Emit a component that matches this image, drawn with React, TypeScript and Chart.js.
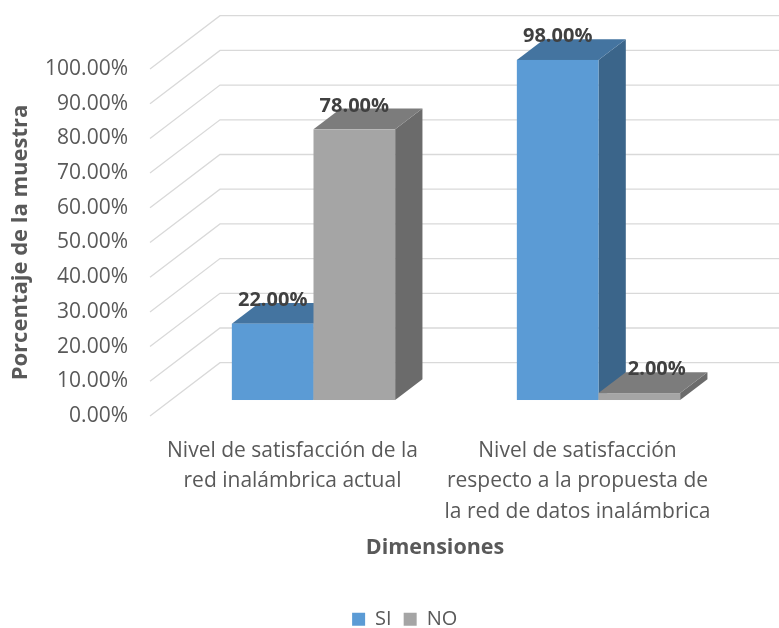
import React, { useEffect, useRef } from "react";
import { Chart, registerables } from "chart.js";

Chart.register(...registerables);

// Category labels, one entry per wrapped line
const categoryLines: string[][] = [
  ["Nivel de satisfacción de la", "red inalámbrica actual"],
  ["Nivel de satisfacción", "respecto a la propuesta de", "la red de datos inalámbrica"],
];
const seriesNames = ["SI", "NO"];
const siValues = [22, 98];
const noValues = [78, 2];
const yTickValues = [0, 10, 20, 30, 40, 50, 60, 70, 80, 90, 100];
const seriesColors = ["#5B9BD5", "#A5A5A5"];

const yTitle = "Porcentaje de la muestra";
const xTitle = "Dimensiones";

const FONT = "'Open Sans', 'Noto Sans', sans-serif";
const TEXT = "#595959";
const VALUE_TEXT = "#404040";

// Oblique projection of the 3D box: full wall depth and the slab the bars occupy
const WALL_DX = 70;
const WALL_DY = -53.3;
const BAR_FRONT = 0.3;
const BAR_BACK = 0.69;

const pct = (v: number) => v.toFixed(2) + "%";

function shade(hex: string, k: number): string {
  const n = parseInt(hex.slice(1), 16);
  const r = Math.round(((n >> 16) & 255) * k);
  const g = Math.round(((n >> 8) & 255) * k);
  const b = Math.round((n & 255) * k);
  return `rgb(${r},${g},${b})`;
}

function fillPoly(ctx: CanvasRenderingContext2D, pts: number[][], color: string) {
  ctx.beginPath();
  ctx.moveTo(pts[0][0], pts[0][1]);
  for (let i = 1; i < pts.length; i++) ctx.lineTo(pts[i][0], pts[i][1]);
  ctx.closePath();
  ctx.fillStyle = color;
  ctx.fill();
}

const bars3d = {
  id: "bars3d",
  beforeDatasetsDraw(chart: any) {
    const { ctx, chartArea: area } = chart;
    const ys = chart.scales.y;
    ctx.save();
    ctx.strokeStyle = "#d9d9d9";
    ctx.lineWidth = 1.3;
    ys.ticks.forEach((t: any) => {
      const y = ys.getPixelForValue(t.value);
      ctx.beginPath();
      ctx.moveTo(area.left, y);
      ctx.lineTo(area.left + WALL_DX, y + WALL_DY);
      ctx.lineTo(area.right + WALL_DX, y + WALL_DY);
      ctx.stroke();
    });
    ctx.restore();
  },
  beforeDatasetDraw() {
    // the flat bars are replaced by the 3D columns below
    return false;
  },
  afterDatasetsDraw(chart: any) {
    const { ctx } = chart;
    const fx = BAR_FRONT * WALL_DX;
    const fy = BAR_FRONT * WALL_DY;
    const bx = BAR_BACK * WALL_DX;
    const by = BAR_BACK * WALL_DY;
    const n = chart.data.labels.length;
    const dsCount = chart.data.datasets.length;

    ctx.save();
    for (let i = 0; i < n; i++) {
      for (let j = 0; j < dsCount; j++) {
        const el = chart.getDatasetMeta(j).data[i];
        const { x, y, base, width } = el.getProps(["x", "y", "base", "width"], true);
        const l = x - width / 2;
        const r = x + width / 2;
        const col = seriesColors[j];
        fillPoly(ctx, [[r + fx, y + fy], [r + bx, y + by], [r + bx, base + by], [r + fx, base + fy]], shade(col, 0.65));
        fillPoly(ctx, [[l + fx, y + fy], [r + fx, y + fy], [r + bx, y + by], [l + bx, y + by]], shade(col, 0.75));
        ctx.fillStyle = col;
        ctx.fillRect(l + fx, y + fy, width, base - y);
      }
    }

    ctx.font = `bold 20px ${FONT}`;
    ctx.fillStyle = VALUE_TEXT;
    ctx.textAlign = "center";
    ctx.textBaseline = "alphabetic";
    for (let i = 0; i < n; i++) {
      for (let j = 0; j < dsCount; j++) {
        const el = chart.getDatasetMeta(j).data[i];
        const { x, y } = el.getProps(["x", "y"], true);
        const text = pct(chart.data.datasets[j].data[i]);
        const tw = ctx.measureText(text).width;
        let cx = x + fx;
        if (j > 0) {
          // keep the label clear of a taller neighbour's side face
          const prev = chart.getDatasetMeta(j - 1).data[i].getProps(["x", "y", "width"], true);
          if (prev.y < y) {
            const minLeft = prev.x + prev.width / 2 + bx + 2;
            if (cx - tw / 2 < minLeft) cx = minLeft + tw / 2;
          }
        }
        ctx.fillText(text, cx, y + by + 3);
      }
    }
    ctx.restore();
  },
  afterDraw(chart: any) {
    const { ctx, chartArea: area } = chart;
    const xs = chart.scales.x;
    ctx.save();
    ctx.fillStyle = TEXT;
    ctx.textAlign = "center";
    ctx.textBaseline = "alphabetic";
    ctx.font = `21px ${FONT}`;
    categoryLines.forEach((lines, i) => {
      const cx = xs.getPixelForValue(i);
      lines.forEach((t, k) => ctx.fillText(t, cx, area.bottom + 40.5 + k * 30.7));
    });
    ctx.font = `bold 21.5px ${FONT}`;
    ctx.fillText(xTitle, (area.left + area.right) / 2, 553.5);
    ctx.restore();
  },
};

export default function App() {
  const canvasRef = useRef<HTMLCanvasElement | null>(null);

  useEffect(() => {
    const canvas = canvasRef.current;
    if (!canvas) return;
    const chart = new Chart(canvas, {
      type: "bar",
      data: {
        labels: categoryLines.map((l) => l.join(" ")),
        datasets: [
          { label: seriesNames[0], data: siValues, backgroundColor: seriesColors[0], borderWidth: 0 },
          { label: seriesNames[1], data: noValues, backgroundColor: seriesColors[1], borderWidth: 0 },
        ],
      },
      options: {
        responsive: false,
        animation: false,
        devicePixelRatio: 1,
        layout: { padding: { left: 17, right: -13.4, top: 69, bottom: -11.3 } },
        datasets: { bar: { categoryPercentage: 0.573, barPercentage: 1, yAxisID: "y" } },
        plugins: {
          tooltip: { enabled: false },
          legend: {
            position: "bottom",
            labels: {
              boxWidth: 13,
              boxHeight: 13,
              padding: 12,
              color: TEXT,
              font: { family: FONT, size: 20 },
            },
          },
        },
        scales: {
          x: {
            grid: { display: false, drawTicks: false },
            border: { display: false },
            ticks: { display: false },
            afterFit: (s: any) => {
              s.height = 181.3;
            },
          },
          y: {
            min: 0,
            max: 100,
            grid: { display: false, drawTicks: false },
            border: { display: false },
            afterBuildTicks: (s: any) => {
              s.ticks = yTickValues.map((v) => ({ value: v }));
            },
            ticks: {
              padding: 22,
              color: TEXT,
              font: { family: FONT, size: 21 },
              callback: (v: any) => pct(Number(v)),
            },
            title: {
              display: true,
              text: yTitle,
              color: TEXT,
              font: { family: FONT, size: 22, weight: "bold", lineHeight: 1 },
              padding: { top: -7, bottom: 0 },
            },
            afterFit: (s: any) => {
              s.width = 133;
            },
          },
          // empty right-hand strip: room for the receding back wall
          depth: {
            type: "linear",
            position: "right",
            grid: { display: false, drawTicks: false },
            border: { display: false },
            ticks: { display: false },
            afterFit: (s: any) => {
              s.width = 72.4;
            },
          },
        },
      },
      plugins: [bars3d],
    });
    return () => chart.destroy();
  }, []);

  return (
    <div style={{ position: "absolute", left: 0, top: 0, width: 779, height: 628, background: "#fff" }}>
      <canvas ref={canvasRef} width={779} height={628} style={{ display: "block" }} />
    </div>
  );
}
